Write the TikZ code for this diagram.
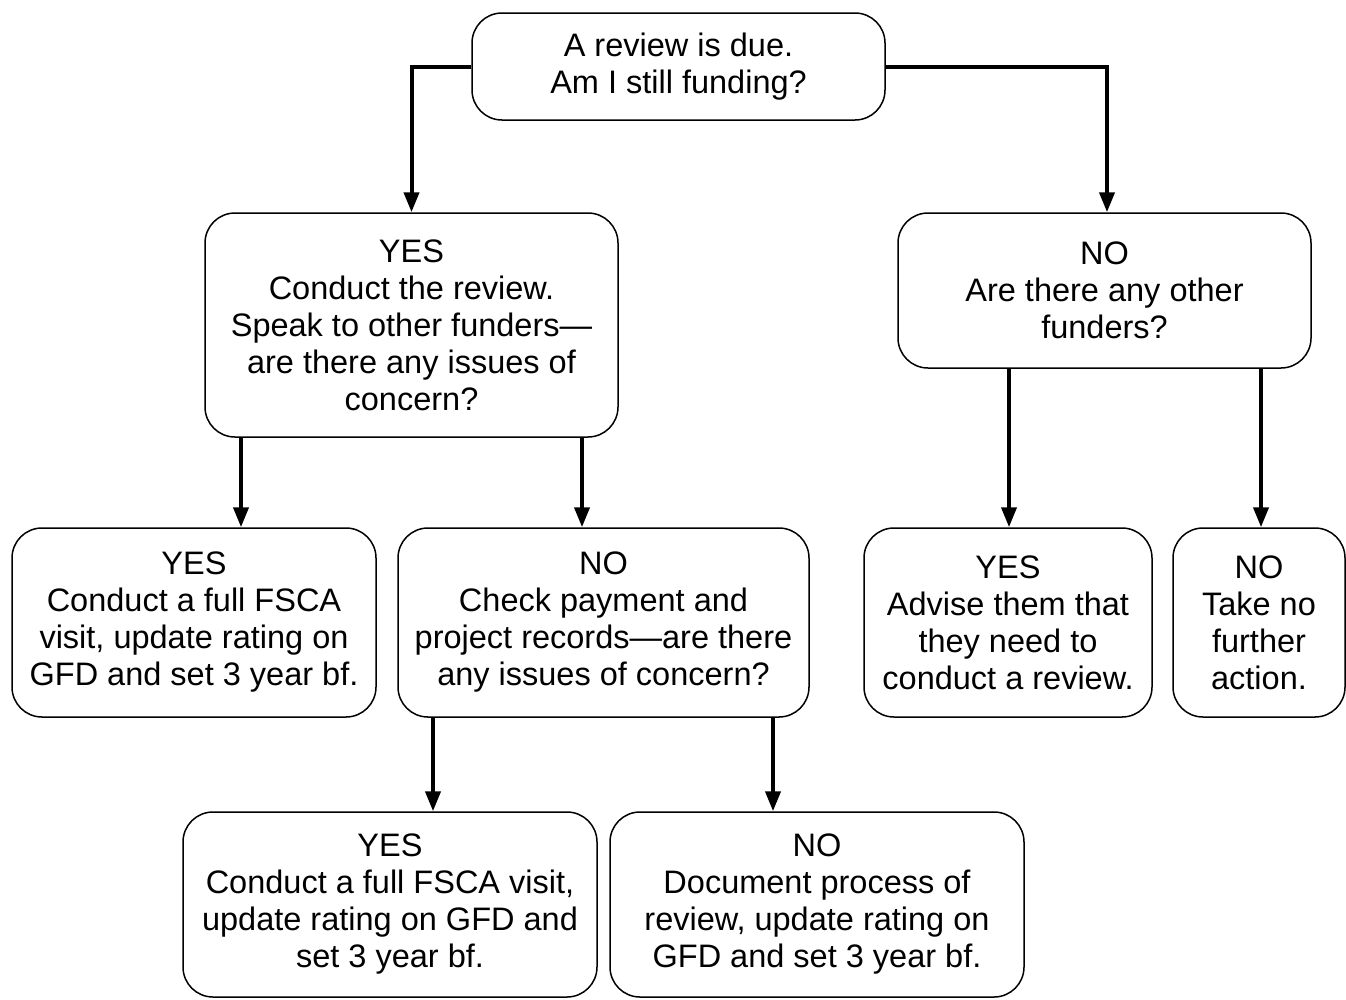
\documentclass[tikz,border=0pt]{standalone}
\usepackage{fontspec}
\setmainfont{Liberation Sans}
\usetikzlibrary{arrows.meta}
\begin{document}
\begin{tikzpicture}[x=1pt, y=-1pt,
    box/.style={draw, line width=1.5pt, rounded corners=30pt, align=center, inner sep=0pt,
        font=\fontsize{32.5}{37}\selectfont},
    arr/.style={line width=4pt, -{Triangle[length=20pt,width=15pt]}}]
    \useasboundingbox (0,0) rectangle (1346,999);
    \node (due) [box, minimum width=413pt, minimum height=107pt] at (678.5,66.5) {A review is due.\\Am I still funding?};
    \node (yes) [box, minimum width=413pt, minimum height=224pt] at (411.5,325) {YES\\Conduct the review.\\Speak to other funders—\\are there any issues of\\concern?};
    \node (no) [box, minimum width=413pt, minimum height=155pt] at (1104.5,290.5) {NO\\Are there any other\\funders?};
    \node (yesyes) [box, minimum width=364pt, minimum height=189pt] at (194,622.5) {YES\\Conduct a full FSCA\\visit, update rating on\\GFD and set 3 year bf.};
    \node (yesno) [box, minimum width=411pt, minimum height=189pt] at (603.5,622.5) {NO\\Check payment and\\project records—are there\\any issues of concern?};
    \node (noyes) [box, minimum width=288pt, minimum height=189pt] at (1008,622.5) {YES\\Advise them that\\they need to\\conduct a review.};
    \node (nono) [box, minimum width=172pt, minimum height=189pt] at (1259,622.5) {NO\\Take no\\further\\action.};
    \node (visit) [box, minimum width=414pt, minimum height=185pt] at (390,904.5) {YES\\Conduct a full FSCA visit,\\update rating on GFD and\\set 3 year bf.};
    \node (doc) [box, minimum width=414pt, minimum height=185pt] at (817,904.5) {NO\\Document process of\\review, update rating on\\GFD and set 3 year bf.};
    % top split
    \draw[arr] (due.west) -| (yes.north);
    \draw[arr] (due.east) -| ([xshift=2.5pt]no.north);
    % second row
    \draw[arr] ([xshift=-170.5pt]yes.south) -- ([xshift=-170.5pt]yes.south |- yesyes.north);
    \draw[arr] ([xshift=170.5pt]yes.south) -- ([xshift=170.5pt]yes.south |- yesno.north);
    \draw[arr] ([xshift=-95.5pt]no.south) -- ([xshift=-95.5pt]no.south |- noyes.north);
    \draw[arr] ([xshift=156.5pt]no.south) -- ([xshift=156.5pt]no.south |- nono.north);
    % bottom row
    \draw[arr] ([xshift=-170.5pt]yesno.south) -- ([xshift=-170.5pt]yesno.south |- visit.north);
    \draw[arr] ([xshift=169.5pt]yesno.south) -- ([xshift=169.5pt]yesno.south |- doc.north);
\end{tikzpicture}
\end{document}
